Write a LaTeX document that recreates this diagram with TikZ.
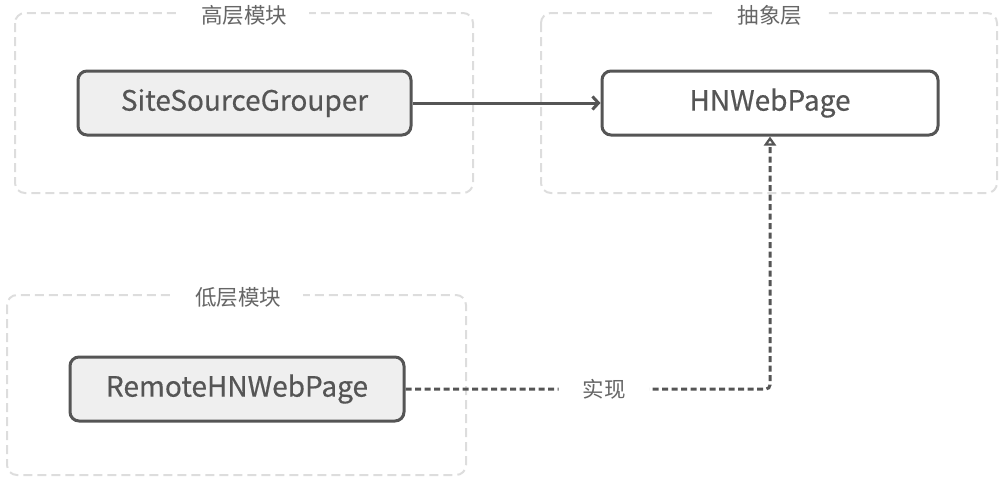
\documentclass[tikz,border=0pt]{standalone}
\usepackage{fontspec}
\setmainfont{Noto Sans CJK SC}
\newfontfamily\boxfont[FakeBold=0.4]{Noto Sans CJK SC}
\usetikzlibrary{arrows.meta}
\definecolor{edgec}{HTML}{555555}
\definecolor{grpc}{HTML}{DDDDDD}
\definecolor{titlec}{HTML}{666666}
\definecolor{fillc}{HTML}{EFEFEF}
\tikzset{
  grp/.style={draw=grpc, line width=2pt, dash pattern=on 9pt off 5pt, rounded corners=10pt},
  grptitle/.style={fill=white, text=titlec, font=\fontsize{21.5pt}{24pt}\selectfont, inner xsep=22pt, inner ysep=2pt},
  box/.style={draw=edgec, line width=3pt, rounded corners=9pt, text=edgec, font=\boxfont\fontsize{28pt}{32pt}\selectfont, minimum height=64pt},
  assoc/.style={draw=edgec, line width=3pt, -{Straight Barb[length=6pt,width=13pt,line width=3pt]}},
  realize/.style={draw=edgec, line width=3pt, dash pattern=on 6pt off 3.5pt, rounded corners=4pt, -{Triangle[open,length=9pt,width=12pt,line width=2.6pt]}},
  lbl/.style={fill=white, text=titlec, font=\fontsize{21.5pt}{24pt}\selectfont, inner xsep=24pt, inner ysep=3pt}
}
\begin{document}
\begin{tikzpicture}[x=1pt,y=-1pt]
\useasboundingbox (0,0) rectangle (1003,482);
% groups
\draw[grp] (15,13) rectangle (473,193);
\node[grptitle] (thigh) at (244,15) {高层模块};
\draw[grp] (541,13) rectangle (997,193);
\node[grptitle] (tabs) at (770,15) {抽象层};
\draw[grp] (7,295) rectangle (466,475);
\node[grptitle] (tlow) at (238,297) {低层模块};
% nodes
\node[box, fill=fillc, minimum width=333pt] (ssg) at (244.5,103) {SiteSourceGrouper};
\node[box, fill=white, minimum width=336pt] (hnwp) at (770,103) {HNWebPage};
\node[box, fill=fillc, minimum width=334pt] (remote) at (237,389) {RemoteHNWebPage};
\coordinate (corner) at (hnwp.south |- remote.east);
% connectors
\draw[assoc] (ssg.east) -- (hnwp.west);
\draw[realize] (remote.east) -- node[lbl, pos=0.545, solid] (impl) {实现} (corner) -- (hnwp.south);
\end{tikzpicture}
\end{document}
